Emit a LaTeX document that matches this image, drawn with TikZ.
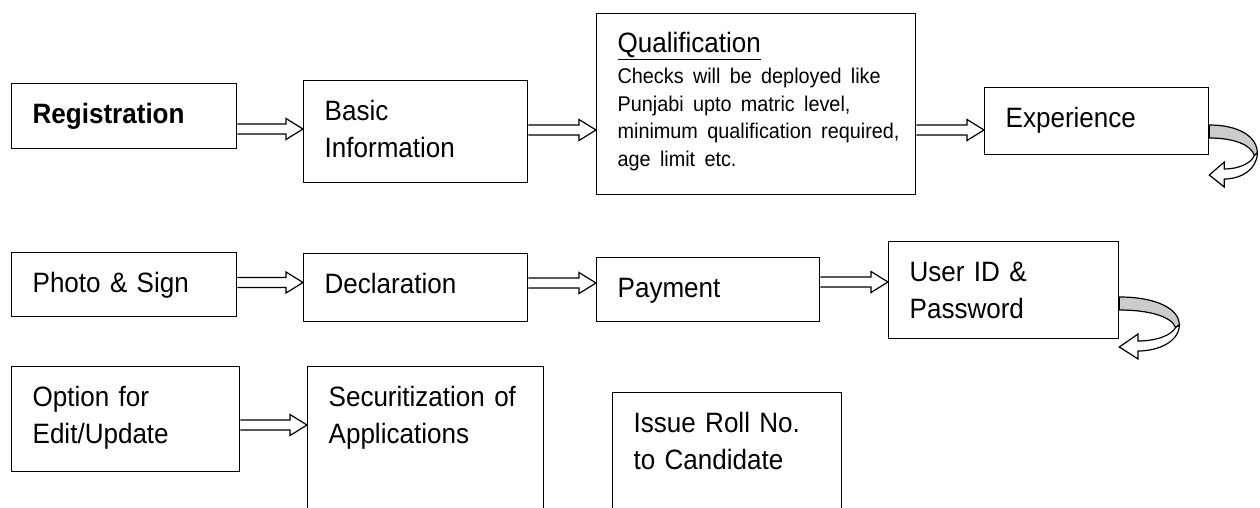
\documentclass[tikz,border=0pt]{standalone}
\usepackage{fontspec}
\setmainfont[FakeStretch=0.93]{Liberation Sans}
\usetikzlibrary{calc}

\newcommand{\fatarrow}[3]{%
  \path[fat arrow] let \p1=(#1.east |- 0,#3), \p2=(#2.west |- 0,#3) in
    (\x1,\y1+5pt) -- (\x2-17pt,\y1+5pt) -- (\x2-17pt,\y1+10.5pt) -- (\x2,\y1)
    -- (\x2-17pt,\y1-10.5pt) -- (\x2-17pt,\y1-5pt) -- (\x1,\y1-5pt);}

\newcommand{\turnarrow}[3]{%
  \begin{scope}[shift={($(#1.north east)+(0,#2)$)}, xscale=#3, turn arrow]
    \filldraw[fill=gray!40] (0,0) .. controls (30,0) and (48,12) .. (48,28)
      -- (45,30.5) .. controls (42,20) and (25,13) .. (0,13) -- cycle;
    \filldraw[fill=white] (48,28) .. controls (48,44) and (32,54) .. (15,54)
      -- (15,62) -- (0,50) -- (15,37) -- (15,44)
      .. controls (30,44) and (42,38) .. (45,30.5) -- cycle;
  \end{scope}}

\begin{document}
\begin{tikzpicture}[x=1pt, y=-1pt, line join=miter,
  box/.style={draw, line width=1.3pt, anchor=north west, inner xsep=21pt, inner ysep=0pt, align=left, text height=40pt, font=\fontsize{28}{37}\selectfont},
  fat arrow/.style={draw, line width=1.2pt, fill=white},
  turn arrow/.style={line width=1.2pt}]

            \useasboundingbox (0,0) rectangle (1260,508);
            \clip (0,0) rectangle (1260,508);

            \node[box, text width=183pt, text depth=25pt] (reg) at (11,83) {\bfseries Registration};
            \node[box, text width=182pt, text depth=62pt] (basic) at (303,80) {Basic\\ Information};
            \node[box, text width=277pt, text depth=142pt, text height=39pt] (qual) at (596,13) {\underline{Qualification}\\[-6pt]\parbox[t]{290pt}{\raggedright\fontsize{21.3}{27.5}\selectfont Checks will be deployed like\\ Punjabi upto matric level,\\ minimum qualification required,\\ age limit etc.}};
            \node[box, text width=182pt, text depth=27pt] (exp) at (984,87) {Experience};

            \node[box, text width=183pt, text depth=24pt] (photo) at (11,252) {Photo \& Sign};
            \node[box, text width=182pt, text depth=28pt] (decl) at (303,253) {Declaration};
            \node[box, text width=181pt, text depth=24pt] (pay) at (596,257) {Payment};
            \node[box, text width=188pt, text depth=57pt] (user) at (888,241) {User ID \&\\ Password};

            \node[box, text width=186pt, text depth=65pt] (opt) at (11,366) {Option for\\ Edit/Update};
            \node[box, text width=194pt, text depth=120pt] (secur) at (307,366) {Securitization of\\ Applications};
            \node[box, text width=187pt, text depth=100pt] (issue) at (612,392) {Issue Roll No.\\ to Candidate};

            \fatarrow{reg}{basic}{129}
            \fatarrow{basic}{qual}{130}
            \fatarrow{qual}{exp}{130}
            \fatarrow{photo}{decl}{282.5}
            \fatarrow{decl}{pay}{283}
            \fatarrow{pay}{user}{282}
            \fatarrow{opt}{secur}{425}

            \turnarrow{exp}{38}{1}
            \turnarrow{user}{56}{1.25}

        \end{tikzpicture}
\end{document}
